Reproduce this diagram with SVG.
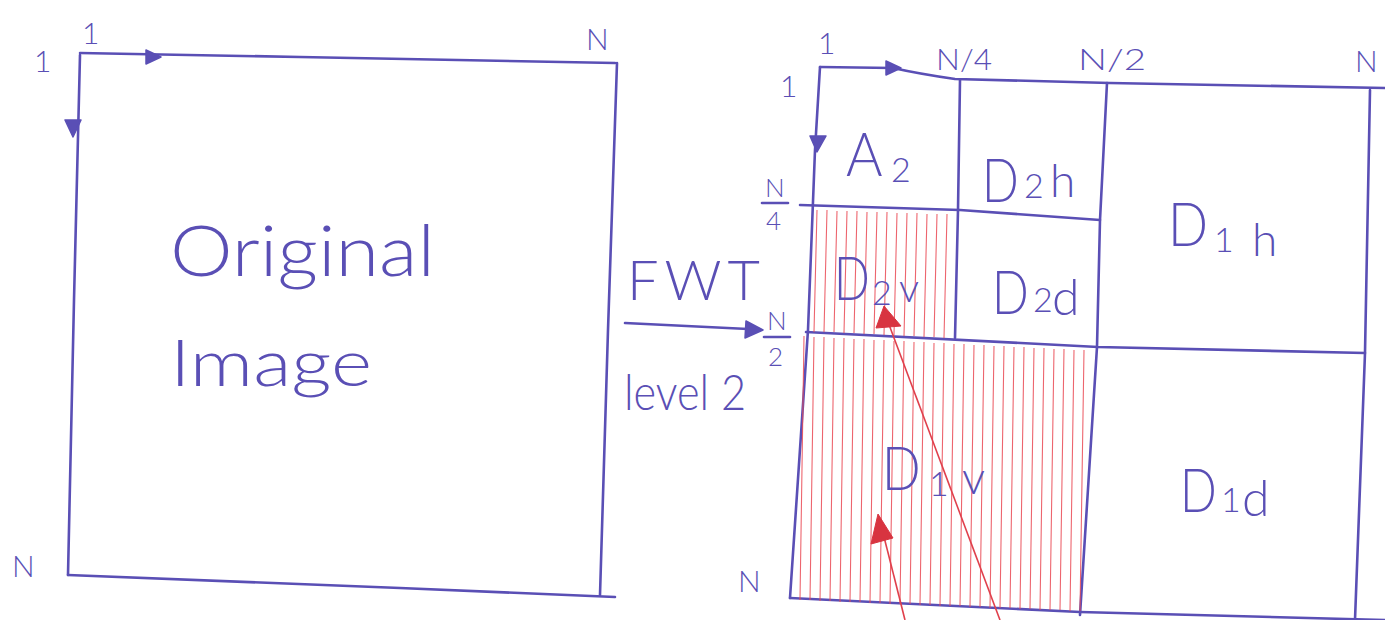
<svg xmlns="http://www.w3.org/2000/svg" width="1385" height="620" viewBox="0 0 1385 620">
  <style>
    .ink { fill: none; stroke: #5a4fb5; stroke-width: 2.6; stroke-linecap: round; stroke-linejoin: round; }
    .head { fill: #5a4fb5; stroke: #5a4fb5; stroke-width: 1.5; stroke-linejoin: round; }
    .lbl { font-family: Lato, "Liberation Sans", sans-serif; font-weight: 300; fill: #5a4fb5; }
    .big { font-size: 62px; }
    .sub { font-size: 34px; }
    .axis { font-size: 30px; }
    .frac { font-size: 26px; }
    .script { font-family: Lato, "Liberation Sans", sans-serif; font-weight: 300; fill: #5a4fb5; }
    .hatch { fill: none; stroke: #ea4a55; stroke-width: 1.1; opacity: 0.85; }
    .redline { fill: none; stroke: #e0404c; stroke-width: 1.6; }
    .redhead { fill: #d83440; stroke: #d83440; stroke-width: 1; }
  </style>

  <!-- left square: the source image -->
  <g id="original-image">
    <path class="ink" d="M80 53 L300 57 L615 63"/>
    <path class="ink" d="M80 55 L74 300 L68 575"/>
    <path class="ink" d="M617 63 L608 330 L600 595"/>
    <path class="ink" d="M68 575 L400 588 L615 597"/>
    <polygon class="head" points="146,50 161,57 146,64"/>
    <polygon class="head" points="65,120 81,120 73,137"/>
    <text class="lbl axis" x="34" y="72">1</text>
    <text class="lbl axis" x="82" y="44">1</text>
    <text class="lbl axis" x="586" y="50">N</text>
    <text class="lbl axis" x="12" y="577">N</text>
    <text class="script" x="170" y="276" font-size="70" textLength="265" lengthAdjust="spacingAndGlyphs">Original</text>
    <text class="script" x="170" y="386" font-size="66" textLength="202" lengthAdjust="spacingAndGlyphs">Image</text>
  </g>

  <!-- transform label -->
  <g id="fwt-label">
    <text class="lbl" x="627" y="300" font-size="56" letter-spacing="6">FWT</text>
    <text class="script" x="624" y="410" font-size="50" textLength="122" lengthAdjust="spacingAndGlyphs">level 2</text>
  </g>

  <!-- right grid: two-level decomposition -->
  <g id="grid">
    <path class="ink" d="M820 67 L893 68 Q920 74 955 79 L1110 83 L1385 88"/>
    <path class="ink" d="M820 67 L815 150 L808 330 L790 598"/>
    <path class="ink" d="M960 80 L958 210 L955 338"/>
    <path class="ink" d="M1107 83 L1100 220 L1097 347 L1080 615"/>
    <path class="ink" d="M1370 90 L1365 353 L1355 620"/>
    <path class="ink" d="M800 205 L960 210 L1100 220"/>
    <path class="ink" d="M806 332 L1098 347 L1365 353"/>
    <path class="ink" d="M790 598 L1080 612 L1385 620"/>
    <polygon class="head" points="886,61 901,68 886,75"/>
    <polygon class="head" points="810,136 826,136 817,152"/>
  </g>

  <!-- hatched vertical-detail bands -->
  <g id="hatching">
    <path class="hatch" d="M817 210L814 332 M827 210L824 332 M837 211L834 332 M847 211L844 333 M857 211L854 333 M867 212L864 334 M877 212L874 334 M887 212L884 335 M897 213L894 335 M907 213L904 336 M917 213L914 336 M927 214L924 337 M937 214L934 337 M947 214L944 338"/>
    <path class="hatch" d="M804 336L800 600 M814 337L810 600 M824 337L820 601 M834 338L830 601 M844 338L840 602 M854 339L850 602 M864 339L860 602 M874 340L870 603 M884 340L880 603 M894 341L890 604 M904 341L900 604 M914 342L910 604 M924 342L920 605 M934 343L930 605 M944 343L940 606 M954 344L950 606 M964 344L960 606 M974 345L970 607 M984 345L980 607 M994 346L990 608 M1004 346L1000 608 M1014 347L1010 608 M1024 347L1020 609 M1034 348L1030 609 M1044 348L1040 610 M1054 349L1050 610 M1064 349L1060 610 M1074 350L1070 611 M1084 350L1080 611"/>
  </g>

  <!-- axis labels of the grid -->
  <g id="grid-labels">
    <text class="lbl axis" x="780" y="97">1</text>
    <text class="lbl axis" x="818" y="54">1</text>
    <text class="lbl axis" x="936" y="70" textLength="56" lengthAdjust="spacingAndGlyphs">N/4</text>
    <text class="lbl axis" x="1078" y="70" textLength="68" lengthAdjust="spacingAndGlyphs">N/2</text>
    <text class="lbl axis" x="1355" y="72">N</text>
    <text class="lbl frac" x="765" y="197">N</text>
    <path class="ink" d="M762 203 L788 203" stroke-width="2"/>
    <text class="lbl frac" x="766" y="230">4</text>
    <text class="lbl frac" x="767" y="330">N</text>
    <path class="ink" d="M764 337 L790 337" stroke-width="2"/>
    <text class="lbl frac" x="768" y="366">2</text>
    <text class="lbl axis" x="738" y="592">N</text>
  </g>

  <!-- sub-band nodes: narrowed capital, subscript index, orientation -->
  <g id="node-a2">
    <text class="lbl big" transform="translate(846 176) scale(0.9 1)">A</text>
    <text class="lbl sub" x="891" y="182">2</text>
  </g>
  <g id="node-d2h">
    <text class="lbl big" transform="translate(982 202) scale(0.78 1)">D</text>
    <text class="lbl sub" x="1024" y="198">2</text>
    <text class="lbl" x="1050" y="197" font-size="46">h</text>
  </g>
  <g id="node-d1h">
    <text class="lbl big" transform="translate(1168 246) scale(0.85 1)">D</text>
    <text class="lbl sub" x="1214" y="252">1</text>
    <text class="lbl" x="1252" y="256" font-size="46">h</text>
  </g>
  <g id="node-d2v">
    <text class="lbl big" transform="translate(834 300) scale(0.76 1)">D</text>
    <text class="lbl sub" x="872" y="305">2</text>
    <text class="lbl" x="899" y="302" font-size="40">v</text>
  </g>
  <g id="node-d2d">
    <text class="lbl big" transform="translate(992 314) scale(0.78 1)">D</text>
    <text class="lbl sub" x="1033" y="312">2</text>
    <text class="lbl" x="1052" y="315" font-size="50">d</text>
  </g>
  <g id="node-d1v">
    <text class="lbl big" transform="translate(882 490) scale(0.82 1)">D</text>
    <text class="lbl sub" x="929" y="496">1</text>
    <text class="lbl" x="962" y="494" font-size="46">v</text>
  </g>
  <g id="node-d1d">
    <text class="lbl big" transform="translate(1180 512) scale(0.78 1)">D</text>
    <text class="lbl sub" x="1221" y="512">1</text>
    <text class="lbl" x="1242" y="516" font-size="50">d</text>
  </g>

  <!-- connectors -->
  <g id="connectors">
    <path class="ink" d="M625 323 L748 329"/>
    <polygon class="head" points="746,321 763,330 745,338"/>
    <path class="redline" d="M1000 620 L888 322"/>
    <polygon class="redhead" points="884,306 901,326 876,328"/>
    <path class="redline" d="M905 620 L881 525"/>
    <polygon class="redhead" points="878,514 893,538 871,544"/>
  </g>
</svg>
